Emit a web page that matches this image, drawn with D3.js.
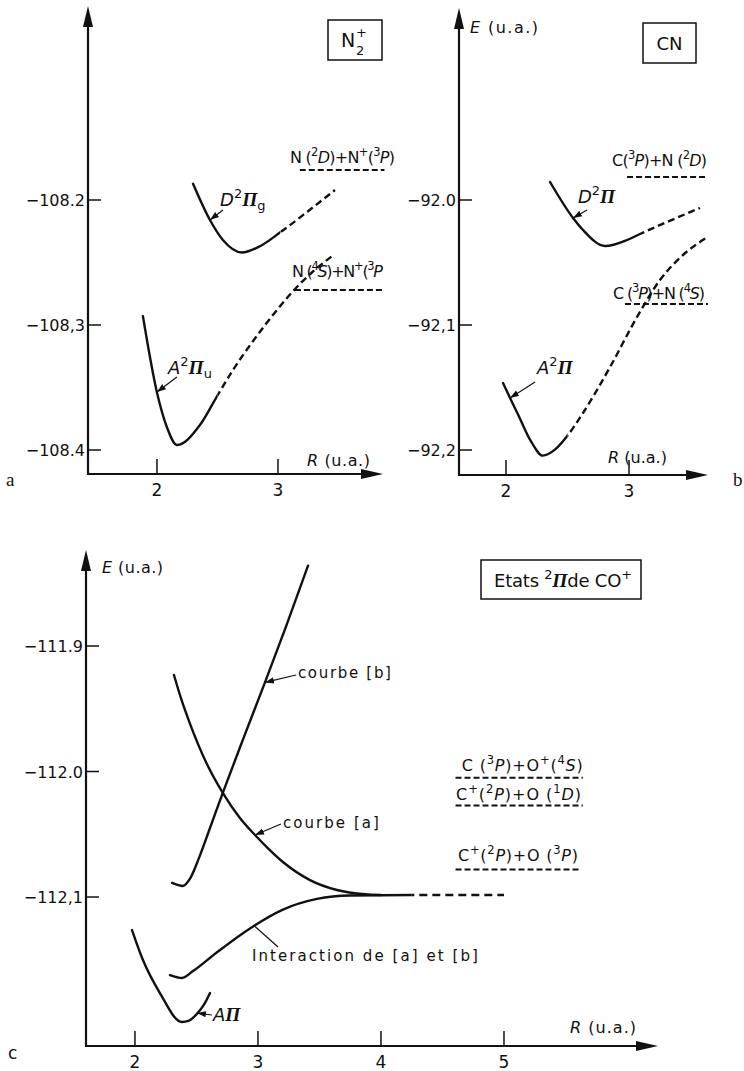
<!DOCTYPE html>
<html>
<head>
<meta charset="utf-8">
<script src="https://cdn.jsdelivr.net/npm/d3@7"></script>
<style>
body { margin: 0; background: #fff; }
svg { display: block; }
text { font-family: "DejaVu Sans", "Liberation Sans", sans-serif; fill: #111; }
</style>
</head>
<body>
<svg id="chart" width="744" height="1071"></svg>
<script>
// ---------- panneau a : N2+ ----------
const aTicksX = [2, 3];
const aTicksY = [-108.2, -108.3, -108.4];
const aTickLabelsY = ["−108.2", "−108,3", "−108.4"];
// points [R, E]
const aCurveA = [[1.884, -108.293], [2.0, -108.354], [2.083, -108.382], [2.165, -108.396], [2.355, -108.380],
  [2.496, -108.357], [2.628, -108.336], [2.793, -108.313], [2.992, -108.288], [3.124, -108.273], [3.28, -108.258], [3.446, -108.245]];
const aCurveD = [[2.298, -108.187], [2.438, -108.216], [2.545, -108.232], [2.702, -108.242], [2.851, -108.237],
  [3.017, -108.226], [3.248, -108.209], [3.471, -108.192]];
const aSplit = { A: 2.5, D: 3.02 };   // au-dela : tirets
const aAsym = [[-108.176, 3.18, 3.88], [-108.272, 3.14, 3.86]];  // [E, R debut, R fin]
const aLabels = [
  [3.099, -108.1704, "N (^{2}*{D})+N^{+}(^{3}*{P})"],
  [3.116, -108.2616, "N (^{4}*{S})+N^{+}(^{3}*{P}"],
  [2.521, -108.2048, "*{D}^{2}#{Π}_{g}"],
  [2.091, -108.3392, "*{A}^{2}#{Π}_{u}"],
  [3.240, -108.4128, "*{R} (u.a.)"]
];
const aArrows = [[2.545, -108.208, 2.438, -108.216], [2.165, -108.3416, 2.0, -108.3536]];

// ---------- panneau b : CN ----------
const bTicksX = [2, 3];
const bTicksY = [-92.0, -92.1, -92.2];
const bTickLabelsY = ["−92.0", "−92,1", "−92,2"];
const bCurveD = [[2.358, -91.9856], [2.545, -92.0144], [2.626, -92.024], [2.805, -92.0368], [2.984, -92.032],
  [3.089, -92.0272], [3.309, -92.0176], [3.577, -92.0064]];
const bCurveA = [[1.976, -92.1464], [2.033, -92.1584], [2.1, -92.172], [2.2, -92.1925], [2.3, -92.2045], [2.4, -92.1995],
  [2.5, -92.1885], [2.626, -92.1704], [2.846, -92.1336], [3.065, -92.0936], [3.252, -92.064], [3.439, -92.044], [3.626, -92.0304]];
const bSplit = { A: 2.5, D: 3.09 };
const bAsym = [[-91.9816, 2.984, 3.634], [-92.0832, 2.967, 3.642]];
const bLabels = [
  [2.862, -91.9728, "C(^{3}*{P})+N (^{2}*{D})"],
  [2.870, -92.0792, "C (^{3}*{P})+N (^{4}*{S})"],
  [2.585, -92.0024, "*{D}^{2}#{Π}"],
  [2.252, -92.1392, "*{A}^{2}#{Π}"],
  [2.829, -92.2104, "*{R} (u.a.)"],
  [1.707, -91.8664, "*{E} (u.a.)"]
];
const bArrows = [[2.659, -92.008, 2.545, -92.0144], [2.236, -92.1456, 2.033, -92.1584]];

// ---------- panneau c : etats 2Pi de CO+ ----------
const cTicksX = [2, 3, 4, 5];
const cTicksY = [-111.9, -112.0, -112.1];
const cTickLabelsY = ["−111.9", "−112.0", "−112,1"];
const cCurveB = [[2.301, -112.0888], [2.39, -112.0912], [2.45, -112.085], [2.52, -112.069], [2.61, -112.045],
  [2.714, -112.017], [2.88, -111.974], [3.057, -111.929], [3.23, -111.884], [3.407, -111.836]];
const cCurveA = [[2.317, -111.9231], [2.38, -111.9434], [2.447, -111.9618], [2.58, -111.993], [2.714, -112.017], [2.85, -112.0366],
  [2.976, -112.0506], [3.09, -112.062], [3.203, -112.0721], [3.423, -112.0865], [3.642, -112.0944], [3.87, -112.0978], [4.0, -112.0984]];
const cCurveInt = [[2.285, -112.1622], [2.382, -112.1645], [2.472, -112.159], [2.667, -112.144], [2.935, -112.125],
  [3.203, -112.110], [3.480, -112.1015], [3.748, -112.0988], [4.26, -112.0984], [5.0, -112.0984]];
const cCurveAPi = [[1.976, -112.1263], [2.065, -112.1502], [2.203, -112.1765], [2.382, -112.1996], [2.44, -112.1985],
  [2.5, -112.1935], [2.56, -112.186], [2.610, -112.1765]];
const cSplitInt = 4.25;
const cAsym = [[-112.005, 4.606, 5.641], [-112.027, 4.606, 5.641], [-112.078, 4.606, 5.62]];
const cLabels = [
  [1.732, -111.8418, "*{E} (u.a.)"],
  [3.325, -111.9255, "courbe [b]"],
  [3.203, -112.045, "courbe [a]"],
  [2.951, -112.151, "Interaction de [a] et [b]"],
  [2.634, -112.1988, "*{A}#{Π}"],
  [4.657, -111.9996, "C (^{3}*{P})+O^{+}(^{4}*{S})"],
  [4.610, -112.0227, "C^{+}(^{2}*{P})+O (^{1}*{D})"],
  [4.626, -112.0713, "C^{+}(^{2}*{P})+O (^{3}*{P})"],
  [5.537, -112.2084, "*{R} (u.a.)"]
];
const cArrows = [[3.309, -111.9231, 3.057, -111.929], [3.187, -112.0418, 2.976, -112.0506], [2.626, -112.194, 2.504, -112.1925]];
const cLeaders = [[3.163, -112.1398, 2.976, -112.1235]];

// taille de police et largeur (px) des textes, dans l'ordre des tableaux ci-dessus
const aLabelStyle = [[16, 105], [16, 91], [18], [18], [16, 63]];
const bLabelStyle = [[16, 95], [16, 92], [18], [18], [16, 59], [16, 68]];
const cLabelStyle = [[16, 61], [15, 93], [15, 96], [15, 226], [18], [16, 121], [16, 125], [16, 120], [16, 66]];

// ---------- mise en page ----------
const svg = d3.select("#chart");
const defs = svg.append("defs");
defs.append("marker").attr("id", "head").attr("viewBox", "0 0 10 10")
  .attr("refX", 10).attr("refY", 5).attr("markerWidth", 9).attr("markerHeight", 9)
  .attr("markerUnits", "userSpaceOnUse").attr("orient", "auto")
  .append("path").attr("d", "M0,1.5 L10,5 L0,8.5 Z").attr("fill", "#111");

function makePanel(box, xDom, yDom) {
  return {
    x: d3.scaleLinear().domain(xDom).range([box.left, box.right]),
    y: d3.scaleLinear().domain(yDom).range([box.bottom, box.top]),
    box: box
  };
}

// texte riche : ^{exposant} _{indice} *{italique} #{Pi gras italique}
function rich(g, x, y, src, size, width, extra) {
  const t = g.append("text").attr("x", x).attr("y", y).style("font-size", size + "px");
  if (width) t.attr("textLength", width).attr("lengthAdjust", "spacing");
  if (extra) extra(t);
  const re = /([\^_*#])\{([^}]*)\}|([^\^_*#]+)/g;
  let m, shift = 0;
  while ((m = re.exec(src)) !== null) {
    const kind = m[1] || "", txt = m[1] ? m[2] : m[3];
    const s = t.append("tspan").text(txt);
    const target = kind === "^" ? -size * 0.42 : kind === "_" ? size * 0.22 : 0;
    s.attr("dy", target - shift);
    shift = target;
    if (kind === "^" || kind === "_") s.style("font-size", (size * 0.72) + "px");
    if (kind === "*") s.style("font-style", "italic");
    if (kind === "#") s.style("font-family", "'Liberation Serif', serif").style("font-weight", "bold")
      .style("font-style", "italic").style("font-size", (size * 1.08) + "px");
  }
  return t;
}

let clipId = 0;
function curve(g, p, pts, split, dash) {
  const line = d3.line().x(d => p.x(d[0])).y(d => p.y(d[1])).curve(d3.curveMonotoneX);
  const xs = split == null ? 10000 : p.x(split);
  const c1 = "c" + (clipId++), c2 = "c" + (clipId++);
  defs.append("clipPath").attr("id", c1).append("rect").attr("x", 0).attr("y", 0).attr("width", xs).attr("height", 1071);
  defs.append("clipPath").attr("id", c2).append("rect").attr("x", xs).attr("y", 0).attr("width", 744).attr("height", 1071);
  g.append("path").attr("d", line(pts)).attr("clip-path", `url(#${c1})`)
    .attr("fill", "none").attr("stroke", "#111").attr("stroke-width", 2.4).attr("stroke-linecap", "round");
  if (split != null)
    g.append("path").attr("d", line(pts)).attr("clip-path", `url(#${c2})`)
      .attr("fill", "none").attr("stroke", "#111").attr("stroke-width", 2.4).attr("stroke-dasharray", dash || "7,4");
}

function axes(g, p, ticksX, ticksY, labelsY) {
  const b = p.box;
  g.append("line").attr("x1", b.left).attr("x2", b.left).attr("y1", b.bottom + 1).attr("y2", b.top + 16)
    .attr("stroke", "#111").attr("stroke-width", 2.2);
  g.append("path").attr("d", `M${b.left},${b.top} L${b.left - 5},${b.top + 21} L${b.left + 5},${b.top + 21} Z`).attr("fill", "#111");
  g.append("line").attr("x1", b.left - 1).attr("x2", b.right - 16).attr("y1", b.bottom).attr("y2", b.bottom)
    .attr("stroke", "#111").attr("stroke-width", 2.2);
  g.append("path").attr("d", `M${b.right},${b.bottom} L${b.right - 22},${b.bottom - 5} L${b.right - 22},${b.bottom + 5} Z`).attr("fill", "#111");

  g.selectAll(".ty").data(ticksY).enter().append("line")
    .attr("x1", b.left).attr("x2", b.left + 13).attr("y1", d => p.y(d)).attr("y2", d => p.y(d))
    .attr("stroke", "#111").attr("stroke-width", 1.5);
  g.selectAll(".tly").data(ticksY).enter().append("text")
    .attr("x", b.left - 3).attr("y", d => p.y(d) + 6).attr("text-anchor", "end")
    .style("font-size", "16px").text((d, i) => labelsY[i]);
  g.selectAll(".tx").data(ticksX).enter().append("line")
    .attr("x1", d => p.x(d)).attr("x2", d => p.x(d)).attr("y1", p.box.bottom).attr("y2", p.box.bottom - 15)
    .attr("stroke", "#111").attr("stroke-width", 1.5);
  g.selectAll(".tlx").data(ticksX).enter().append("text")
    .attr("x", d => p.x(d)).attr("y", p.box.bottom + 22).attr("text-anchor", "middle")
    .style("font-size", "17px").text(d => d);
}

function asymptotes(g, p, rows, dash) {
  g.selectAll(".as").data(rows).enter().append("line")
    .attr("x1", d => p.x(d[1])).attr("x2", d => p.x(d[2]))
    .attr("y1", d => p.y(d[0])).attr("y2", d => p.y(d[0]))
    .attr("stroke", "#111").attr("stroke-width", 2).attr("stroke-dasharray", dash);
}

function labels(g, p, rows, styles) {
  rows.forEach((r, i) => rich(g, p.x(r[0]), p.y(r[1]), r[2], styles[i][0], styles[i][1]));
}

function arrows(g, p, rows, withHead) {
  g.selectAll(".ar").data(rows).enter().append("line")
    .attr("x1", d => p.x(d[0])).attr("y1", d => p.y(d[1]))
    .attr("x2", d => p.x(d[2])).attr("y2", d => p.y(d[3]))
    .attr("stroke", "#111").attr("stroke-width", 1.2)
    .attr("marker-end", withHead ? "url(#head)" : null);
}

function frame(g, x, y, w, h) {
  g.append("rect").attr("x", x).attr("y", y).attr("width", w).attr("height", h)
    .attr("fill", "none").attr("stroke", "#111").attr("stroke-width", 1.5);
}

// panneau a
const pa = makePanel({ left: 88, right: 383, top: 6, bottom: 474 }, [1.43, 3.868], [-108.4192, -108.0448]);
const ga = svg.append("g");
axes(ga, pa, aTicksX, aTicksY, aTickLabelsY);
curve(ga, pa, aCurveA, aSplit.A);
curve(ga, pa, aCurveD, aSplit.D);
asymptotes(ga, pa, aAsym, "6,3");
labels(ga, pa, aLabels, aLabelStyle);
arrows(ga, pa, aArrows, true);
frame(ga, 328, 20, 54, 40);
ga.append("text").attr("x", 341).attr("y", 47).style("font-size", "19px").text("N");
ga.append("text").attr("x", 356).attr("y", 37).style("font-size", "13px").text("+");
ga.append("text").attr("x", 356).attr("y", 55).style("font-size", "13px").text("2");
ga.append("text").attr("x", 6).attr("y", 486).style("font-family", "'Liberation Serif', serif").style("font-size", "19px").text("a");

// panneau b
const pb = makePanel({ left: 459, right: 708, top: 8, bottom: 475 }, [1.618, 3.642], [-92.22, -91.8464]);
const gb = svg.append("g");
axes(gb, pb, bTicksX, bTicksY, bTickLabelsY);
curve(gb, pb, bCurveD, bSplit.D);
curve(gb, pb, bCurveA, bSplit.A);
asymptotes(gb, pb, bAsym, "6,3");
labels(gb, pb, bLabels, bLabelStyle);
arrows(gb, pb, bArrows, true);
frame(gb, 643, 23, 53, 40);
rich(gb, 669.5, 50, "CN", 18, null, t => t.attr("text-anchor", "middle"));
gb.append("text").attr("x", 733).attr("y", 486).style("font-family", "'Liberation Serif', serif").style("font-size", "19px").text("b");

// panneau c
const pc = makePanel({ left: 86, right: 658, top: 550, bottom: 1046 }, [1.602, 6.252], [-112.2187, -111.8235]);
const gc = svg.append("g");
axes(gc, pc, cTicksX, cTicksY, cTickLabelsY);
curve(gc, pc, cCurveB, null);
curve(gc, pc, cCurveA, null);
curve(gc, pc, cCurveInt, cSplitInt, "8,5");
curve(gc, pc, cCurveAPi, null);
asymptotes(gc, pc, cAsym, "6,3");
labels(gc, pc, cLabels, cLabelStyle);
arrows(gc, pc, cArrows, true);
arrows(gc, pc, cLeaders, false);
frame(gc, 481, 560, 160, 39);
rich(gc, 494, 587, "Etats ^{2}#{Π}de CO^{+}", 18, 138);
gc.append("text").attr("x", 8).attr("y", 1059).style("font-size", "17px").text("c");
</script>
</body>
</html>
